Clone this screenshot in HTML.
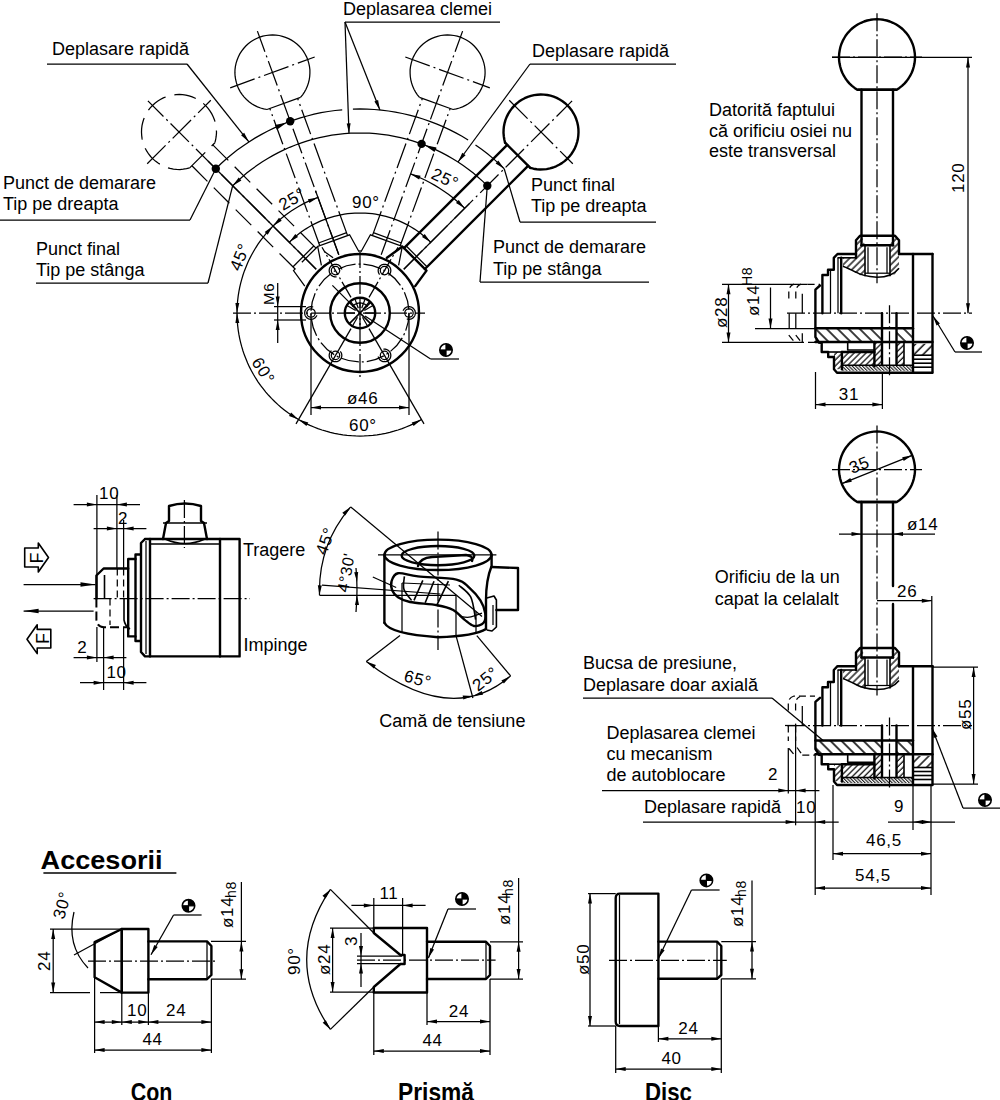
<!DOCTYPE html>
<html><head><meta charset="utf-8"><style>
    html,body{margin:0;padding:0;background:#fff;}
    svg{display:block;}
    .k{stroke:#000;stroke-width:2.4;fill:none;stroke-linecap:round;stroke-linejoin:round;}
    .km{stroke:#000;stroke-width:1.6;fill:none;stroke-linejoin:round;}
    .t{stroke:#000;stroke-width:1.25;fill:none;}
    .dd{stroke:#000;stroke-width:1.25;fill:none;stroke-dasharray:18 3 2 3;}
    .ds{stroke:#000;stroke-width:1.25;fill:none;stroke-dasharray:7 4;}
    .ds2{stroke:#000;stroke-width:1.25;fill:none;stroke-dasharray:22 9;}
    .dd2{stroke:#000;stroke-width:1.25;fill:none;stroke-dasharray:26 4 2 4;}
    .kds{stroke:#000;stroke-width:2;fill:none;stroke-dasharray:9 4;}
    .tx{font-family:"Liberation Sans",sans-serif;fill:#000;}
    .dim{letter-spacing:0.7px;}
    .bt{font-family:"Liberation Sans",sans-serif;fill:#000;font-weight:bold;}
    </style></head>
<body><svg width="1000" height="1100" viewBox="0 0 1000 1100"><defs>
    <pattern id="hpA" patternUnits="userSpaceOnUse" width="7.8" height="7.8" patternTransform="rotate(-45)"><line x1="1" y1="0" x2="1" y2="7.8" stroke="#000" stroke-width="1.5"/></pattern>
    <pattern id="hpB" patternUnits="userSpaceOnUse" width="4.2" height="4.2" patternTransform="rotate(45)"><line x1="1" y1="0" x2="1" y2="4.2" stroke="#000" stroke-width="1.2"/></pattern>
    <pattern id="hpC" patternUnits="userSpaceOnUse" width="2.4" height="2.4" patternTransform="rotate(-45)"><line x1="0.6" y1="0" x2="0.6" y2="2.4" stroke="#000" stroke-width="1.0"/></pattern>
    <pattern id="hpD" patternUnits="userSpaceOnUse" width="6.4" height="6.4" patternTransform="rotate(45)"><line x1="1" y1="0" x2="1" y2="6.4" stroke="#000" stroke-width="1.4"/></pattern>
    <pattern id="hpE" patternUnits="userSpaceOnUse" width="4.8" height="4.8" patternTransform="rotate(45)"><line x1="1" y1="0" x2="1" y2="4.8" stroke="#000" stroke-width="1.3"/></pattern>
    </defs>
<rect width="1000" height="1100" fill="#fff"/>
<circle cx="360.0" cy="313.0" r="59.0" class="k"/>
<circle cx="360.0" cy="313.0" r="29.8" class="k"/>
<circle cx="360.0" cy="313.0" r="15.2" class="k"/>
<circle cx="360.0" cy="313.0" r="49.0" class="dd"/>
<circle cx="384.5" cy="270.6" r="4.2" class="t"/>
<path d="M379.7,274.6 L379.5,274.4 L379.4,274.3 L379.3,274.1 L379.2,273.9 L379.0,273.7 L378.9,273.5 L378.8,273.3 L378.7,273.1 L378.7,272.9 L378.6,272.7 L378.5,272.5 L378.4,272.3 L378.4,272.1 L378.3,271.9 L378.3,271.7 L378.3,271.4 L378.2,271.2 L378.2,271.0 L378.2,270.8 L378.2,270.6 L378.2,270.3 L378.2,270.1 L378.2,269.9 L378.3,269.7 L378.3,269.5 L378.3,269.3 L378.4,269.0 L378.4,268.8 L378.5,268.6 L378.6,268.4 L378.7,268.2 L378.7,268.0 L378.8,267.8 L378.9,267.6 L379.0,267.4 L379.2,267.2 L379.3,267.0 L379.4,266.9 L379.5,266.7 L379.7,266.5 L379.8,266.3 L380.0,266.2 L380.1,266.0 L380.3,265.9 L380.5,265.7 L380.6,265.6 L380.8,265.5 L381.0,265.3 L381.2,265.2 L381.4,265.1 L381.5,265.0 L381.7,264.9 L381.9,264.8 L382.1,264.7 L382.3,264.6 L382.6,264.6 L382.8,264.5 L383.0,264.5 L383.2,264.4 L383.4,264.4 L383.6,264.3 L383.8,264.3 L384.1,264.3 L384.3,264.3 L384.5,264.3 L384.7,264.3 L384.9,264.3 L385.2,264.3 L385.4,264.3 L385.6,264.4 L385.8,264.4 L386.0,264.5 L386.2,264.5 L386.4,264.6 L386.7,264.6 L386.9,264.7 L387.1,264.8 L387.3,264.9 L387.5,265.0 L387.6,265.1 L387.8,265.2 L388.0,265.3 L388.2,265.5 L388.4,265.6 L388.5,265.7 L388.7,265.9 L388.9,266.0 L389.0,266.2 L389.2,266.3 L389.3,266.5 L389.5,266.7 L389.6,266.9 L389.7,267.0 L389.8,267.2 L390.0,267.4 L390.1,267.6 L390.2,267.8 L390.3,268.0 L390.3,268.2 L390.4,268.4 L390.5,268.6 L390.6,268.8 L390.6,269.0 L390.7,269.3 L390.7,269.5 L390.7,269.7 L390.8,269.9 L390.8,270.1 L390.8,270.3 L390.8,270.6 L390.8,270.8 L390.8,271.0 L390.8,271.2 L390.7,271.4 L390.7,271.7 L390.7,271.9 L390.6,272.1 L390.6,272.3 L390.5,272.5 L390.4,272.7 L390.3,272.9 L390.3,273.1 L390.2,273.3 L390.1,273.5 L390.0,273.7 L389.8,273.9 L389.7,274.1 L389.6,274.3 L389.5,274.4 L389.3,274.6 L389.2,274.8 L389.0,274.9 L388.9,275.1 L388.7,275.2 L388.5,275.4" class="t"/>
<circle cx="409.0" cy="313.0" r="4.2" class="t"/>
<path d="M403.1,310.8 L403.2,310.6 L403.2,310.4 L403.3,310.2 L403.4,310.0 L403.5,309.9 L403.7,309.7 L403.8,309.5 L403.9,309.3 L404.0,309.1 L404.2,309.0 L404.3,308.8 L404.5,308.6 L404.6,308.5 L404.8,308.3 L405.0,308.2 L405.1,308.0 L405.3,307.9 L405.5,307.8 L405.7,307.7 L405.9,307.5 L406.0,307.4 L406.2,307.3 L406.4,307.2 L406.6,307.2 L406.8,307.1 L407.1,307.0 L407.3,306.9 L407.5,306.9 L407.7,306.8 L407.9,306.8 L408.1,306.8 L408.3,306.7 L408.6,306.7 L408.8,306.7 L409.0,306.7 L409.2,306.7 L409.4,306.7 L409.7,306.7 L409.9,306.8 L410.1,306.8 L410.3,306.8 L410.5,306.9 L410.7,306.9 L410.9,307.0 L411.2,307.1 L411.4,307.2 L411.6,307.2 L411.8,307.3 L412.0,307.4 L412.1,307.5 L412.3,307.7 L412.5,307.8 L412.7,307.9 L412.9,308.0 L413.0,308.2 L413.2,308.3 L413.4,308.5 L413.5,308.6 L413.7,308.8 L413.8,309.0 L414.0,309.1 L414.1,309.3 L414.2,309.5 L414.3,309.7 L414.5,309.9 L414.6,310.0 L414.7,310.2 L414.8,310.4 L414.8,310.6 L414.9,310.8 L415.0,311.1 L415.1,311.3 L415.1,311.5 L415.2,311.7 L415.2,311.9 L415.2,312.1 L415.3,312.3 L415.3,312.6 L415.3,312.8 L415.3,313.0 L415.3,313.2 L415.3,313.4 L415.3,313.7 L415.2,313.9 L415.2,314.1 L415.2,314.3 L415.1,314.5 L415.1,314.7 L415.0,314.9 L414.9,315.2 L414.8,315.4 L414.8,315.6 L414.7,315.8 L414.6,316.0 L414.5,316.1 L414.3,316.3 L414.2,316.5 L414.1,316.7 L414.0,316.9 L413.8,317.0 L413.7,317.2 L413.5,317.4 L413.4,317.5 L413.2,317.7 L413.0,317.8 L412.9,318.0 L412.7,318.1 L412.5,318.2 L412.3,318.3 L412.1,318.5 L412.0,318.6 L411.8,318.7 L411.6,318.8 L411.4,318.8 L411.2,318.9 L410.9,319.0 L410.7,319.1 L410.5,319.1 L410.3,319.2 L410.1,319.2 L409.9,319.2 L409.7,319.3 L409.4,319.3 L409.2,319.3 L409.0,319.3 L408.8,319.3 L408.6,319.3 L408.3,319.3 L408.1,319.2 L407.9,319.2 L407.7,319.2 L407.5,319.1 L407.3,319.1 L407.1,319.0 L406.8,318.9" class="t"/>
<circle cx="384.5" cy="355.4" r="4.2" class="t"/>
<path d="M383.4,349.2 L383.6,349.2 L383.8,349.2 L384.1,349.2 L384.3,349.1 L384.5,349.1 L384.7,349.1 L384.9,349.2 L385.2,349.2 L385.4,349.2 L385.6,349.2 L385.8,349.3 L386.0,349.3 L386.2,349.4 L386.4,349.4 L386.7,349.5 L386.9,349.6 L387.1,349.7 L387.3,349.8 L387.5,349.9 L387.6,350.0 L387.8,350.1 L388.0,350.2 L388.2,350.3 L388.4,350.5 L388.5,350.6 L388.7,350.8 L388.9,350.9 L389.0,351.1 L389.2,351.2 L389.3,351.4 L389.5,351.6 L389.6,351.7 L389.7,351.9 L389.8,352.1 L390.0,352.3 L390.1,352.5 L390.2,352.7 L390.3,352.9 L390.3,353.1 L390.4,353.3 L390.5,353.5 L390.6,353.7 L390.6,353.9 L390.7,354.1 L390.7,354.3 L390.7,354.6 L390.8,354.8 L390.8,355.0 L390.8,355.2 L390.8,355.4 L390.8,355.7 L390.8,355.9 L390.8,356.1 L390.7,356.3 L390.7,356.5 L390.7,356.7 L390.6,357.0 L390.6,357.2 L390.5,357.4 L390.4,357.6 L390.3,357.8 L390.3,358.0 L390.2,358.2 L390.1,358.4 L390.0,358.6 L389.8,358.8 L389.7,359.0 L389.6,359.1 L389.5,359.3 L389.3,359.5 L389.2,359.7 L389.0,359.8 L388.9,360.0 L388.7,360.1 L388.5,360.3 L388.4,360.4 L388.2,360.5 L388.0,360.7 L387.8,360.8 L387.6,360.9 L387.5,361.0 L387.3,361.1 L387.1,361.2 L386.9,361.3 L386.7,361.4 L386.4,361.4 L386.2,361.5 L386.0,361.5 L385.8,361.6 L385.6,361.6 L385.4,361.7 L385.2,361.7 L384.9,361.7 L384.7,361.7 L384.5,361.7 L384.3,361.7 L384.1,361.7 L383.8,361.7 L383.6,361.7 L383.4,361.6 L383.2,361.6 L383.0,361.5 L382.8,361.5 L382.6,361.4 L382.3,361.4 L382.1,361.3 L381.9,361.2 L381.7,361.1 L381.5,361.0 L381.4,360.9 L381.2,360.8 L381.0,360.7 L380.8,360.5 L380.6,360.4 L380.5,360.3 L380.3,360.1 L380.1,360.0 L380.0,359.8 L379.8,359.7 L379.7,359.5 L379.5,359.3 L379.4,359.1 L379.3,359.0 L379.2,358.8 L379.0,358.6 L378.9,358.4 L378.8,358.2 L378.7,358.0 L378.7,357.8 L378.6,357.6 L378.5,357.4 L378.4,357.2 L378.4,357.0 L378.3,356.7 L378.3,356.5" class="t"/>
<circle cx="335.5" cy="355.4" r="4.2" class="t"/>
<path d="M340.3,351.4 L340.5,351.6 L340.6,351.7 L340.7,351.9 L340.8,352.1 L341.0,352.3 L341.1,352.5 L341.2,352.7 L341.3,352.9 L341.3,353.1 L341.4,353.3 L341.5,353.5 L341.6,353.7 L341.6,353.9 L341.7,354.1 L341.7,354.3 L341.7,354.6 L341.8,354.8 L341.8,355.0 L341.8,355.2 L341.8,355.4 L341.8,355.7 L341.8,355.9 L341.8,356.1 L341.7,356.3 L341.7,356.5 L341.7,356.7 L341.6,357.0 L341.6,357.2 L341.5,357.4 L341.4,357.6 L341.3,357.8 L341.3,358.0 L341.2,358.2 L341.1,358.4 L341.0,358.6 L340.8,358.8 L340.7,359.0 L340.6,359.1 L340.5,359.3 L340.3,359.5 L340.2,359.7 L340.0,359.8 L339.9,360.0 L339.7,360.1 L339.5,360.3 L339.4,360.4 L339.2,360.5 L339.0,360.7 L338.8,360.8 L338.6,360.9 L338.5,361.0 L338.3,361.1 L338.1,361.2 L337.9,361.3 L337.7,361.4 L337.4,361.4 L337.2,361.5 L337.0,361.5 L336.8,361.6 L336.6,361.6 L336.4,361.7 L336.2,361.7 L335.9,361.7 L335.7,361.7 L335.5,361.7 L335.3,361.7 L335.1,361.7 L334.8,361.7 L334.6,361.7 L334.4,361.6 L334.2,361.6 L334.0,361.5 L333.8,361.5 L333.6,361.4 L333.3,361.4 L333.1,361.3 L332.9,361.2 L332.7,361.1 L332.5,361.0 L332.4,360.9 L332.2,360.8 L332.0,360.7 L331.8,360.5 L331.6,360.4 L331.5,360.3 L331.3,360.1 L331.1,360.0 L331.0,359.8 L330.8,359.7 L330.7,359.5 L330.5,359.3 L330.4,359.1 L330.3,359.0 L330.2,358.8 L330.0,358.6 L329.9,358.4 L329.8,358.2 L329.7,358.0 L329.7,357.8 L329.6,357.6 L329.5,357.4 L329.4,357.2 L329.4,357.0 L329.3,356.7 L329.3,356.5 L329.3,356.3 L329.2,356.1 L329.2,355.9 L329.2,355.7 L329.2,355.4 L329.2,355.2 L329.2,355.0 L329.2,354.8 L329.3,354.6 L329.3,354.3 L329.3,354.1 L329.4,353.9 L329.4,353.7 L329.5,353.5 L329.6,353.3 L329.7,353.1 L329.7,352.9 L329.8,352.7 L329.9,352.5 L330.0,352.3 L330.2,352.1 L330.3,351.9 L330.4,351.7 L330.5,351.6 L330.7,351.4 L330.8,351.2 L331.0,351.1 L331.1,350.9 L331.3,350.8 L331.5,350.6" class="t"/>
<circle cx="311.0" cy="313.0" r="4.2" class="t"/>
<path d="M316.9,315.2 L316.8,315.4 L316.8,315.6 L316.7,315.8 L316.6,316.0 L316.5,316.1 L316.3,316.3 L316.2,316.5 L316.1,316.7 L316.0,316.9 L315.8,317.0 L315.7,317.2 L315.5,317.4 L315.4,317.5 L315.2,317.7 L315.0,317.8 L314.9,318.0 L314.7,318.1 L314.5,318.2 L314.3,318.3 L314.1,318.5 L314.0,318.6 L313.8,318.7 L313.6,318.8 L313.4,318.8 L313.2,318.9 L312.9,319.0 L312.7,319.1 L312.5,319.1 L312.3,319.2 L312.1,319.2 L311.9,319.2 L311.7,319.3 L311.4,319.3 L311.2,319.3 L311.0,319.3 L310.8,319.3 L310.6,319.3 L310.3,319.3 L310.1,319.2 L309.9,319.2 L309.7,319.2 L309.5,319.1 L309.3,319.1 L309.1,319.0 L308.8,318.9 L308.6,318.8 L308.4,318.8 L308.2,318.7 L308.0,318.6 L307.9,318.5 L307.7,318.3 L307.5,318.2 L307.3,318.1 L307.1,318.0 L307.0,317.8 L306.8,317.7 L306.6,317.5 L306.5,317.4 L306.3,317.2 L306.2,317.0 L306.0,316.9 L305.9,316.7 L305.8,316.5 L305.7,316.3 L305.5,316.1 L305.4,316.0 L305.3,315.8 L305.2,315.6 L305.2,315.4 L305.1,315.2 L305.0,314.9 L304.9,314.7 L304.9,314.5 L304.8,314.3 L304.8,314.1 L304.8,313.9 L304.7,313.7 L304.7,313.4 L304.7,313.2 L304.7,313.0 L304.7,312.8 L304.7,312.6 L304.7,312.3 L304.8,312.1 L304.8,311.9 L304.8,311.7 L304.9,311.5 L304.9,311.3 L305.0,311.1 L305.1,310.8 L305.2,310.6 L305.2,310.4 L305.3,310.2 L305.4,310.0 L305.5,309.9 L305.7,309.7 L305.8,309.5 L305.9,309.3 L306.0,309.1 L306.2,309.0 L306.3,308.8 L306.5,308.6 L306.6,308.5 L306.8,308.3 L307.0,308.2 L307.1,308.0 L307.3,307.9 L307.5,307.8 L307.7,307.7 L307.9,307.5 L308.0,307.4 L308.2,307.3 L308.4,307.2 L308.6,307.2 L308.8,307.1 L309.1,307.0 L309.3,306.9 L309.5,306.9 L309.7,306.8 L309.9,306.8 L310.1,306.8 L310.3,306.7 L310.6,306.7 L310.8,306.7 L311.0,306.7 L311.2,306.7 L311.4,306.7 L311.7,306.7 L311.9,306.8 L312.1,306.8 L312.3,306.8 L312.5,306.9 L312.7,306.9 L312.9,307.0 L313.2,307.1" class="t"/>
<circle cx="335.5" cy="270.6" r="4.2" class="t"/>
<path d="M336.6,276.8 L336.4,276.8 L336.2,276.8 L335.9,276.8 L335.7,276.9 L335.5,276.9 L335.3,276.9 L335.1,276.8 L334.8,276.8 L334.6,276.8 L334.4,276.8 L334.2,276.7 L334.0,276.7 L333.8,276.6 L333.6,276.6 L333.3,276.5 L333.1,276.4 L332.9,276.3 L332.7,276.2 L332.5,276.1 L332.4,276.0 L332.2,275.9 L332.0,275.8 L331.8,275.7 L331.6,275.5 L331.5,275.4 L331.3,275.2 L331.1,275.1 L331.0,274.9 L330.8,274.8 L330.7,274.6 L330.5,274.4 L330.4,274.3 L330.3,274.1 L330.2,273.9 L330.0,273.7 L329.9,273.5 L329.8,273.3 L329.7,273.1 L329.7,272.9 L329.6,272.7 L329.5,272.5 L329.4,272.3 L329.4,272.1 L329.3,271.9 L329.3,271.7 L329.3,271.4 L329.2,271.2 L329.2,271.0 L329.2,270.8 L329.2,270.6 L329.2,270.3 L329.2,270.1 L329.2,269.9 L329.3,269.7 L329.3,269.5 L329.3,269.3 L329.4,269.0 L329.4,268.8 L329.5,268.6 L329.6,268.4 L329.7,268.2 L329.7,268.0 L329.8,267.8 L329.9,267.6 L330.0,267.4 L330.2,267.2 L330.3,267.0 L330.4,266.9 L330.5,266.7 L330.7,266.5 L330.8,266.3 L331.0,266.2 L331.1,266.0 L331.3,265.9 L331.5,265.7 L331.6,265.6 L331.8,265.5 L332.0,265.3 L332.2,265.2 L332.4,265.1 L332.5,265.0 L332.7,264.9 L332.9,264.8 L333.1,264.7 L333.3,264.6 L333.6,264.6 L333.8,264.5 L334.0,264.5 L334.2,264.4 L334.4,264.4 L334.6,264.3 L334.8,264.3 L335.1,264.3 L335.3,264.3 L335.5,264.3 L335.7,264.3 L335.9,264.3 L336.2,264.3 L336.4,264.3 L336.6,264.4 L336.8,264.4 L337.0,264.5 L337.2,264.5 L337.4,264.6 L337.7,264.6 L337.9,264.7 L338.1,264.8 L338.3,264.9 L338.5,265.0 L338.6,265.1 L338.8,265.2 L339.0,265.3 L339.2,265.5 L339.4,265.6 L339.5,265.7 L339.7,265.9 L339.9,266.0 L340.0,266.2 L340.2,266.3 L340.3,266.5 L340.5,266.7 L340.6,266.9 L340.7,267.0 L340.8,267.2 L341.0,267.4 L341.1,267.6 L341.2,267.8 L341.3,268.0 L341.3,268.2 L341.4,268.4 L341.5,268.6 L341.6,268.8 L341.6,269.0 L341.7,269.3 L341.7,269.5" class="t"/>
<line x1="369.0" y1="297.4" x2="398.0" y2="247.2" class="dd"/>
<line x1="351.0" y1="297.4" x2="322.0" y2="247.2" class="dd"/>
<line x1="369.0" y1="328.6" x2="424.0" y2="423.9" class="t"/>
<line x1="351.0" y1="328.6" x2="296.0" y2="423.9" class="t"/>
<line x1="349.4" y1="302.4" x2="370.6" y2="323.6" class="km"/>
<line x1="370.6" y1="302.4" x2="349.4" y2="323.6" class="km"/>
<line x1="355.7" y1="310.5" x2="347.0" y2="305.5" class="t"/>
<line x1="356.8" y1="309.2" x2="350.4" y2="301.5" class="t"/>
<line x1="358.3" y1="308.3" x2="354.9" y2="298.9" class="t"/>
<line x1="360.0" y1="308.0" x2="360.0" y2="298.0" class="t"/>
<line x1="361.7" y1="308.3" x2="365.1" y2="298.9" class="t"/>
<line x1="363.2" y1="309.2" x2="369.6" y2="301.5" class="t"/>
<line x1="364.3" y1="310.5" x2="373.0" y2="305.5" class="t"/>
<line x1="365.0" y1="313.0" x2="375.0" y2="313.0" class="t"/>
<line x1="355.0" y1="313.0" x2="345.0" y2="313.0" class="t"/>
<line x1="360.0" y1="318.0" x2="360.0" y2="328.0" class="t"/>
<line x1="362.5" y1="317.3" x2="367.5" y2="326.0" class="t"/>
<line x1="357.5" y1="317.3" x2="352.5" y2="326.0" class="t"/>
<path d="M352.3,306.6 L352.6,306.3 L352.8,306.1 L353.1,305.8 L353.3,305.6 L353.6,305.3 L353.8,305.1 L354.1,304.9 L354.4,304.7 L354.7,304.5 L355.0,304.3 L355.3,304.2 L355.6,304.0 L355.9,303.9 L356.3,303.7 L356.6,303.6 L356.9,303.5 L357.2,303.4 L357.6,303.3 L357.9,303.2 L358.3,303.2 L358.6,303.1 L359.0,303.1 L359.3,303.0 L359.7,303.0 L360.0,303.0 L360.3,303.0 L360.7,303.0 L361.0,303.1 L361.4,303.1 L361.7,303.2 L362.1,303.2 L362.4,303.3 L362.8,303.4 L363.1,303.5 L363.4,303.6 L363.7,303.7 L364.1,303.9 L364.4,304.0 L364.7,304.2 L365.0,304.3 L365.3,304.5 L365.6,304.7 L365.9,304.9 L366.2,305.1 L366.4,305.3 L366.7,305.6 L366.9,305.8 L367.2,306.1 L367.4,306.3 L367.7,306.6" class="t"/>
<line x1="349.4" y1="302.4" x2="332.4" y2="285.4" class="t"/>
<line x1="233.0" y1="313.0" x2="425.0" y2="313.0" class="dd"/>
<line x1="360.0" y1="250.0" x2="360.0" y2="377.0" class="dd"/>
<path d="M215.8,168.8 L220.9,163.8 L226.2,159.0 L231.6,154.5 L237.2,150.1 L243.0,145.9 L248.9,141.9 L254.9,138.1 L261.1,134.6 L267.4,131.2 L273.8,128.1 L280.3,125.2 L286.9,122.5 L293.6,120.1 L300.4,117.9 L307.2,116.0 L314.1,114.2 L321.1,112.7 L328.1,111.5 L335.1,110.5 L342.2,109.8" class="t"/>
<path d="M352.9,109.1 L360.0,109.0 L367.1,109.1 L374.2,109.5 L381.3,110.1 L388.4,111.0 L395.4,112.1 L402.4,113.5 L409.4,115.1 L416.2,116.9 L423.0,119.0 L429.8,121.3 L436.4,123.9 L443.0,126.6 L449.4,129.6 L455.8,132.9 L462.0,136.3 L468.1,140.0" class="t"/>
<path d="M475.5,144.9 L481.6,149.2 L487.5,153.8 L493.3,158.6 L498.9,163.6 L504.2,168.8" class="t"/>
<path d="M232.7,185.7 L237.2,181.4 L241.9,177.2 L246.7,173.1 L251.7,169.2 L256.8,165.6 L262.0,162.0 L267.3,158.7 L272.7,155.6 L278.3,152.6 L283.9,149.9 L289.7,147.3 L295.5,145.0 L301.4,142.8 L307.4,140.9 L313.4,139.1 L319.5,137.6 L325.7,136.3 L331.8,135.2 L338.1,134.3 L344.3,133.7 L350.6,133.2 L356.9,133.0 L363.1,133.0 L369.4,133.2 L375.7,133.7 L381.9,134.3 L388.2,135.2 L394.3,136.3 L400.5,137.6 L406.6,139.1 L412.6,140.9 L418.6,142.8 L424.5,145.0 L430.3,147.3 L436.1,149.9 L441.7,152.6 L447.3,155.6 L452.7,158.7 L458.0,162.0 L463.2,165.6 L468.3,169.2 L473.3,173.1 L478.1,177.2 L482.8,181.4 L487.3,185.7" class="t"/>
<path d="M410.6,173.9 L415.6,175.9 L420.6,178.0 L425.5,180.3 L430.2,182.7 L434.9,185.4 L439.5,188.2 L444.0,191.2 L448.4,194.3 L452.6,197.6 L456.8,201.0 L460.8,204.6 L464.7,208.3" class="t"/>
<path d="M410.6,173.9 L420.6,175.8 L419.1,179.5 Z" fill="#000"/>
<path d="M464.7,208.3 L456.0,203.0 L458.7,200.1 Z" fill="#000"/>
<path d="M289.3,242.3 L291.8,239.9 L294.4,237.5 L297.1,235.3 L299.8,233.1 L302.6,231.1 L305.5,229.1 L308.5,227.3 L311.5,225.5 L314.6,223.9 L317.7,222.4 L320.9,220.9 L324.2,219.6 L327.4,218.4 L330.8,217.4 L334.1,216.4 L337.5,215.6 L340.9,214.8 L344.4,214.2 L347.8,213.7 L351.3,213.4 L354.8,213.1 L358.3,213.0 L361.7,213.0 L365.2,213.1 L368.7,213.4 L372.2,213.7 L375.6,214.2 L379.1,214.8 L382.5,215.6 L385.9,216.4 L389.2,217.4 L392.6,218.4 L395.8,219.6 L399.1,220.9 L402.3,222.4 L405.4,223.9 L408.5,225.5 L411.5,227.3 L414.5,229.1 L417.4,231.1 L420.2,233.1 L422.9,235.3 L425.6,237.5 L428.2,239.9 L430.7,242.3" class="t"/>
<path d="M289.3,242.3 L295.3,234.1 L298.0,237.0 Z" fill="#000"/>
<path d="M430.7,242.3 L422.0,237.0 L424.7,234.1 Z" fill="#000"/>
<path d="M317.9,197.4 L313.9,199.0 L310.0,200.6 L306.1,202.4 L302.3,204.4 L298.5,206.5 L294.8,208.7 L291.2,211.0 L287.7,213.5 L284.3,216.1 L280.9,218.8 L277.7,221.6 L274.6,224.5 L271.5,227.6 L268.6,230.7 L265.8,233.9 L263.1,237.3 L260.5,240.7 L258.0,244.2 L255.7,247.8 L253.5,251.5 L251.4,255.3 L249.4,259.1 L247.6,263.0 L246.0,266.9 L244.4,270.9 L243.0,275.0 L241.8,279.1 L240.7,283.2 L239.7,287.4 L238.9,291.6 L238.2,295.9 L237.7,300.1 L237.3,304.4 L237.1,308.7 L237.0,313.0 L237.1,317.3 L237.3,321.6 L237.7,325.9 L238.2,330.1 L238.9,334.4 L239.7,338.6 L240.7,342.8 L241.8,346.9 L243.0,351.0 L244.4,355.1 L246.0,359.1 L247.6,363.0 L249.4,366.9 L251.4,370.7 L253.5,374.5 L255.7,378.2 L258.0,381.8 L260.5,385.3 L263.1,388.7 L265.8,392.1 L268.6,395.3 L271.5,398.4 L274.6,401.5 L277.7,404.4 L280.9,407.2 L284.3,409.9 L287.7,412.5 L291.2,415.0 L294.8,417.3 L298.5,419.5 L302.3,421.6 L306.1,423.6 L310.0,425.4 L313.9,427.0 L317.9,428.6 L322.0,430.0 L326.1,431.2 L330.2,432.3 L334.4,433.3 L338.6,434.1 L342.9,434.8 L347.1,435.3 L351.4,435.7 L355.7,435.9 L360.0,436.0 L364.3,435.9 L368.6,435.7 L372.9,435.3 L377.1,434.8 L381.4,434.1 L385.6,433.3 L389.8,432.3 L393.9,431.2 L398.0,430.0 L402.1,428.6 L406.1,427.0 L410.0,425.4 L413.9,423.6 L417.7,421.6 L421.5,419.5" class="t"/>
<path d="M317.9,197.4 L309.4,203.0 L307.9,199.3 Z" fill="#000"/>
<path d="M273.0,226.0 L279.0,217.7 L281.7,220.7 Z" fill="#000"/>
<path d="M273.0,226.0 L267.7,234.7 L264.7,232.0 Z" fill="#000"/>
<path d="M237.0,313.0 L235.4,302.9 L239.3,303.1 Z" fill="#000"/>
<path d="M237.0,313.0 L239.3,322.9 L235.4,323.1 Z" fill="#000"/>
<path d="M298.5,419.5 L289.0,415.9 L291.1,412.5 Z" fill="#000"/>
<path d="M298.5,419.5 L308.3,422.4 L306.4,426.0 Z" fill="#000"/>
<path d="M421.5,419.5 L413.6,426.0 L411.7,422.4 Z" fill="#000"/>
<line x1="316.2" y1="269.2" x2="208.0" y2="161.0" class="t"/>
<line x1="338.8" y1="254.7" x2="315.5" y2="190.8" class="t"/>
<line x1="403.8" y1="269.2" x2="469.6" y2="203.4" class="t"/>
<path d="M286.9,122.5 L276.9,129.7 L274.9,125.0 Z" fill="#000"/>
<circle cx="290.2" cy="121.3" r="4.2" fill="#000"/>
<path d="M424.5,145.0 L436.5,147.4 L434.5,152.1 Z" fill="#000"/>
<circle cx="421.6" cy="143.9" r="4.2" fill="#000"/>
<circle cx="215.8" cy="168.8" r="4.2" fill="#000"/>
<circle cx="487.3" cy="185.7" r="4.2" fill="#000"/>
<path d="M232.7,185.7 L238.7,177.4 L241.4,180.4 Z" fill="#000"/>
<path d="M504.2,168.8 L495.6,163.4 L498.3,160.5 Z" fill="#000"/>
<path d="M189.7,167.9 L186.5,168.7 L183.2,169.2 L179.9,169.5 L176.6,169.4 L173.4,169.1 L170.1,168.4 L166.9,167.5 L163.9,166.3 L160.9,164.8 L158.1,163.1 L155.4,161.1 L152.9,158.9 L150.6,156.5 L148.6,154.0 L146.8,151.2 L145.2,148.3 L143.9,145.2 L142.9,142.1 L142.1,138.9 L141.7,135.6 L141.5,132.3 L141.6,129.0 L142.0,125.7 L142.7,122.5 L143.7,119.3 L144.9,116.3 L146.5,113.3 L148.2,110.5 L150.2,107.9 L152.5,105.5 L154.9,103.2 L157.5,101.2 L160.3,99.5 L163.3,97.9 L166.3,96.7 L169.5,95.7 L172.7,95.0 L176.0,94.6 L179.3,94.5 L182.6,94.7 L185.9,95.1 L189.1,95.9 L192.2,96.9 L195.3,98.2 L198.2,99.8 L201.0,101.6 L203.5,103.6 L205.9,105.9 L208.1,108.4 L210.1,111.1 L211.8,113.9 L213.3,116.9 L214.5,119.9 L215.4,123.1 L216.1,126.4 L216.4,129.6 L216.5,132.9 L216.2,136.2 L215.7,139.5 L214.9,142.7" class="ds2"/>
<line x1="189.7" y1="167.9" x2="214.9" y2="142.7" class="ds2"/>
<line x1="295.1" y1="269.0" x2="191.9" y2="165.8" class="ds2"/>
<line x1="316.0" y1="248.1" x2="212.8" y2="144.9" class="ds2"/>
<line x1="147.2" y1="163.8" x2="210.8" y2="100.2" class="dd2"/>
<line x1="316.2" y1="269.2" x2="147.9" y2="100.9" class="dd2"/>
<path d="M304.8,286.1 L293.5,270.6 L317.6,246.5 L333.1,257.8" class="ds2"/>
<line x1="292.8" y1="267.0" x2="314.0" y2="245.8" class="t"/>
<path d="M267.0,109.5 L263.7,108.9 L260.6,108.0 L257.5,106.8 L254.5,105.4 L251.7,103.7 L249.0,101.7 L246.5,99.5 L244.2,97.1 L242.2,94.6 L240.3,91.8 L238.7,88.9 L237.4,85.9 L236.4,82.7 L235.6,79.5 L235.1,76.2 L234.9,72.9 L235.0,69.6 L235.4,66.4 L236.1,63.1 L237.1,60.0 L238.3,56.9 L239.8,53.9 L241.6,51.1 L243.6,48.5 L245.8,46.0 L248.2,43.8 L250.8,41.8 L253.6,40.0 L256.6,38.5 L259.6,37.2 L262.8,36.2 L266.0,35.5 L269.3,35.1 L272.6,34.9 L275.9,35.1 L279.2,35.5 L282.4,36.3 L285.5,37.3 L288.6,38.6 L291.5,40.1 L294.3,41.9 L296.9,44.0 L299.3,46.3 L301.5,48.7 L303.5,51.4 L305.2,54.2 L306.7,57.1 L307.9,60.2 L308.8,63.4 L309.5,66.6 L309.9,69.9 L309.9,73.2 L309.7,76.5 L309.2,79.8 L308.4,83.0 L307.4,86.1 L306.0,89.2 L304.4,92.1 L302.6,94.8 L300.5,97.4" class="t"/>
<line x1="267.0" y1="109.5" x2="300.5" y2="97.4" class="t"/>
<line x1="319.8" y1="245.7" x2="269.8" y2="108.5" class="dd2"/>
<line x1="347.6" y1="235.6" x2="297.6" y2="98.4" class="dd2"/>
<line x1="230.2" y1="87.8" x2="314.7" y2="57.0" class="dd2"/>
<line x1="338.8" y1="254.7" x2="257.4" y2="31.1" class="dd2"/>
<path d="M321.4,265.3 L317.7,246.5 L349.6,234.8 L359.0,251.7" class="t"/>
<line x1="318.5" y1="243.0" x2="346.7" y2="232.7" class="t"/>
<path d="M419.5,97.4 L417.4,94.8 L415.6,92.1 L414.0,89.2 L412.6,86.1 L411.6,83.0 L410.8,79.8 L410.3,76.5 L410.1,73.2 L410.1,69.9 L410.5,66.6 L411.2,63.4 L412.1,60.2 L413.3,57.1 L414.8,54.2 L416.5,51.4 L418.5,48.7 L420.7,46.3 L423.1,44.0 L425.7,41.9 L428.5,40.1 L431.4,38.6 L434.5,37.3 L437.6,36.3 L440.8,35.5 L444.1,35.1 L447.4,34.9 L450.7,35.1 L454.0,35.5 L457.2,36.2 L460.4,37.2 L463.4,38.5 L466.4,40.0 L469.2,41.8 L471.8,43.8 L474.2,46.0 L476.4,48.5 L478.4,51.1 L480.2,53.9 L481.7,56.9 L482.9,60.0 L483.9,63.1 L484.6,66.4 L485.0,69.6 L485.1,72.9 L484.9,76.2 L484.4,79.5 L483.6,82.7 L482.6,85.9 L481.3,88.9 L479.7,91.8 L477.8,94.6 L475.8,97.1 L473.5,99.5 L471.0,101.7 L468.3,103.7 L465.5,105.4 L462.5,106.8 L459.4,108.0 L456.3,108.9 L453.0,109.5" class="t"/>
<line x1="419.5" y1="97.4" x2="453.0" y2="109.5" class="t"/>
<line x1="372.4" y1="235.6" x2="422.4" y2="98.4" class="dd2"/>
<line x1="400.2" y1="245.7" x2="450.2" y2="108.5" class="dd2"/>
<line x1="405.3" y1="57.0" x2="489.8" y2="87.8" class="dd2"/>
<line x1="381.2" y1="254.7" x2="462.6" y2="31.1" class="dd2"/>
<path d="M361.0,251.7 L370.4,234.8 L402.3,246.5 L398.6,265.3" class="t"/>
<line x1="373.3" y1="232.7" x2="401.5" y2="243.0" class="t"/>
<path d="M505.1,142.7 L504.3,139.5 L503.8,136.2 L503.5,132.9 L503.6,129.6 L503.9,126.4 L504.6,123.1 L505.5,119.9 L506.7,116.9 L508.2,113.9 L509.9,111.1 L511.9,108.4 L514.1,105.9 L516.5,103.6 L519.0,101.6 L521.8,99.8 L524.7,98.2 L527.8,96.9 L530.9,95.9 L534.1,95.1 L537.4,94.7 L540.7,94.5 L544.0,94.6 L547.3,95.0 L550.5,95.7 L553.7,96.7 L556.7,97.9 L559.7,99.5 L562.5,101.2 L565.1,103.2 L567.5,105.5 L569.8,107.9 L571.8,110.5 L573.5,113.3 L575.1,116.3 L576.3,119.3 L577.3,122.5 L578.0,125.7 L578.4,129.0 L578.5,132.3 L578.3,135.6 L577.9,138.9 L577.1,142.1 L576.1,145.2 L574.8,148.3 L573.2,151.2 L571.4,154.0 L569.4,156.5 L567.1,158.9 L564.6,161.1 L561.9,163.1 L559.1,164.8 L556.1,166.3 L553.1,167.5 L549.9,168.4 L546.6,169.1 L543.4,169.4 L540.1,169.5 L536.8,169.2 L533.5,168.7 L530.3,167.9" class="k"/>
<line x1="505.1" y1="142.7" x2="530.3" y2="167.9" class="k"/>
<line x1="404.0" y1="248.1" x2="507.2" y2="144.9" class="k"/>
<line x1="424.9" y1="269.0" x2="528.1" y2="165.8" class="k"/>
<line x1="509.2" y1="100.2" x2="572.8" y2="163.8" class="dd2"/>
<line x1="403.8" y1="269.2" x2="572.1" y2="100.9" class="dd2"/>
<path d="M386.9,257.8 L402.4,246.5 L426.5,270.6 L415.2,286.1" class="k"/>
<line x1="406.0" y1="245.8" x2="427.2" y2="267.0" class="t"/>
<line x1="345.0" y1="22.0" x2="500.0" y2="22.0" class="t"/>
<line x1="345.0" y1="22.0" x2="349.0" y2="133.3" class="t"/>
<path d="M349.0,133.3 L346.7,123.4 L350.6,123.3 Z" fill="#000"/>
<line x1="345.0" y1="22.0" x2="379.9" y2="110.0" class="t"/>
<path d="M379.9,110.0 L374.4,101.4 L378.1,99.9 Z" fill="#000"/>
<text x="343.0" y="15.0" font-size="18" text-anchor="start" class="tx">Deplasarea clemei</text>
<text x="52.0" y="55.0" font-size="18" text-anchor="start" class="tx">Deplasare rapidă</text>
<line x1="47.0" y1="64.0" x2="187.0" y2="64.0" class="t"/>
<line x1="187.0" y1="64.0" x2="248.9" y2="141.9" class="t"/>
<path d="M248.9,141.9 L241.1,135.3 L244.2,132.8 Z" fill="#000"/>
<text x="3.0" y="189.0" font-size="18" text-anchor="start" class="tx">Punct de demarare</text>
<text x="3.0" y="210.0" font-size="18" text-anchor="start" class="tx">Tip pe dreapta</text>
<line x1="0.0" y1="220.0" x2="190.0" y2="220.0" class="t"/>
<line x1="190.0" y1="220.0" x2="215.8" y2="168.8" class="t"/>
<text x="36.0" y="255.0" font-size="18" text-anchor="start" class="tx">Punct final</text>
<text x="36.0" y="276.0" font-size="18" text-anchor="start" class="tx">Tip pe stânga</text>
<line x1="36.0" y1="283.0" x2="208.0" y2="283.0" class="t"/>
<line x1="208.0" y1="283.0" x2="232.7" y2="185.7" class="t"/>
<text x="532.0" y="57.0" font-size="18" text-anchor="start" class="tx">Deplasare rapidă</text>
<line x1="530.0" y1="64.0" x2="676.0" y2="64.0" class="t"/>
<line x1="530.0" y1="64.0" x2="458.0" y2="162.0" class="t"/>
<path d="M458.0,162.0 L462.3,152.8 L465.6,155.2 Z" fill="#000"/>
<text x="531.0" y="191.0" font-size="18" text-anchor="start" class="tx">Punct final</text>
<text x="531.0" y="212.0" font-size="18" text-anchor="start" class="tx">Tip pe dreapta</text>
<line x1="520.0" y1="222.0" x2="656.0" y2="222.0" class="t"/>
<line x1="520.0" y1="222.0" x2="504.2" y2="168.8" class="t"/>
<text x="493.0" y="253.0" font-size="18" text-anchor="start" class="tx">Punct de demarare</text>
<text x="493.0" y="274.5" font-size="18" text-anchor="start" class="tx">Tip pe stânga</text>
<line x1="480.0" y1="282.0" x2="649.0" y2="282.0" class="t"/>
<line x1="480.0" y1="282.0" x2="487.3" y2="185.7" class="t"/>
<text x="352.0" y="208.0" font-size="17" text-anchor="start" class="tx dim">90°</text>
<text x="0.0" y="0.0" font-size="17" text-anchor="start" class="tx dim" transform="translate(283,211) rotate(-30)">25°</text>
<text x="0.0" y="0.0" font-size="17" text-anchor="start" class="tx dim" transform="translate(430,178) rotate(25)">25°</text>
<text x="0.0" y="0.0" font-size="17" text-anchor="start" class="tx dim" transform="translate(240,272) rotate(-68)">45°</text>
<text x="0.0" y="0.0" font-size="17" text-anchor="start" class="tx dim" transform="translate(251,362) rotate(58)">60°</text>
<text x="349.0" y="431.0" font-size="17" text-anchor="start" class="tx dim">60°</text>
<text x="347.0" y="404.0" font-size="17" text-anchor="start" class="tx dim">ø46</text>
<line x1="311.0" y1="407.5" x2="409.0" y2="407.5" class="t"/>
<path d="M311.0,407.5 L321.0,405.5 L321.0,409.5 Z" fill="#000"/>
<path d="M409.0,407.5 L399.0,409.5 L399.0,405.5 Z" fill="#000"/>
<line x1="311.0" y1="313.0" x2="311.0" y2="415.0" class="t"/>
<line x1="409.0" y1="313.0" x2="409.0" y2="415.0" class="t"/>
<text x="0.0" y="0.0" font-size="15" text-anchor="start" class="tx dim" transform="translate(274,305) rotate(-90)">M6</text>
<line x1="274.0" y1="306.6" x2="306.0" y2="306.6" class="t"/>
<line x1="274.0" y1="320.0" x2="306.0" y2="320.0" class="t"/>
<line x1="277.7" y1="283.0" x2="277.7" y2="343.0" class="t"/>
<path d="M277.7,306.6 L275.7,296.6 L279.7,296.6 Z" fill="#000"/>
<path d="M277.7,320.0 L279.7,330.0 L275.7,330.0 Z" fill="#000"/>
<line x1="365.0" y1="316.0" x2="430.6" y2="359.0" class="t"/>
<line x1="430.6" y1="359.0" x2="459.0" y2="359.0" class="t"/>
<circle cx="446.0" cy="350.0" r="6.2" fill="#fff" stroke="#000" stroke-width="1.6"/>
<path d="M446.0,350.0 L452.2,350.0 A6.2,6.2 0 0 0 446.0,343.8 Z" fill="#000"/>
<path d="M446.0,350.0 L439.8,350.0 A6.2,6.2 0 0 0 446.0,356.2 Z" fill="#000"/>
<line x1="439.8" y1="350.0" x2="452.2" y2="350.0" class="t"/>
<line x1="446.0" y1="343.8" x2="446.0" y2="356.2" class="t"/>
<path d="M895.7,89.8 L857.3,89.8 L854.6,87.9 L852.0,85.9 L849.6,83.6 L847.4,81.1 L845.5,78.5 L843.8,75.7 L842.3,72.7 L841.1,69.7 L840.2,66.5 L839.5,63.3 L839.1,60.1 L839.0,56.8 L839.2,53.5 L839.7,50.2 L840.4,47.0 L841.4,43.9 L842.7,40.9 L844.3,38.0 L846.0,35.2 L848.1,32.6 L850.3,30.2 L852.7,28.0 L855.4,26.0 L858.1,24.3 L861.1,22.8 L864.1,21.5 L867.2,20.5 L870.5,19.8 L873.7,19.4 L877.0,19.2 L880.3,19.4 L883.5,19.8 L886.8,20.5 L889.9,21.5 L892.9,22.8 L895.9,24.3 L898.6,26.0 L901.3,28.0 L903.7,30.2 L905.9,32.6 L908.0,35.2 L909.7,38.0 L911.3,40.9 L912.6,43.9 L913.6,47.0 L914.3,50.2 L914.8,53.5 L915.0,56.8 L914.9,60.1 L914.5,63.3 L913.8,66.5 L912.9,69.7 L911.7,72.7 L910.2,75.7 L908.5,78.5 L906.6,81.1 L904.4,83.6 L902.0,85.9 L899.4,87.9 L896.7,89.8 L858.3,89.8" class="k"/>
<line x1="858.3" y1="89.8" x2="895.7" y2="89.8" class="k"/>
<line x1="877.0" y1="13.2" x2="877.0" y2="283.2" class="dd"/>
<line x1="832.0" y1="57.2" x2="922.0" y2="57.2" class="dd"/>
<line x1="861.5" y1="89.8" x2="861.5" y2="245.2" class="k"/>
<line x1="893.0" y1="89.8" x2="893.0" y2="245.2" class="k"/>
<path d="M843.0,257.8 L856.0,257.8 L856.0,240.2 L860.0,235.8 L861.5,235.8 L865.0,245.2 L865.0,275.2 L860.0,275.2 L850.0,269.2 L843.0,266.2 Z" fill="url(#hpE)"/>
<path d="M893.0,235.8 L895.0,235.8 L899.0,240.2 L899.0,266.2 L895.0,274.2 L890.0,275.2 L890.0,245.2 Z" fill="url(#hpE)"/>
<path d="M843,266.2 Q848,268.2 856,272.2 Q862,276.2 877,277.2 Q892,277.2 899,268.2" class="km"/>
<path d="M856.0,257.8 L856.0,240.2 L860.0,235.8 L895.0,235.8 L899.0,240.2 L899.0,254.0" class="k"/>
<line x1="865.0" y1="245.2" x2="865.0" y2="276.2" class="km"/>
<line x1="890.0" y1="245.2" x2="890.0" y2="276.2" class="km"/>
<line x1="861.5" y1="245.2" x2="893.0" y2="245.2" class="k"/>
<line x1="868.0" y1="247.2" x2="868.0" y2="273.2" class="t"/>
<line x1="887.0" y1="247.2" x2="887.0" y2="273.2" class="t"/>
<line x1="865.0" y1="273.2" x2="890.0" y2="273.2" class="t"/>
<path d="M822.4,313.2 L822.4,275.0 L828.0,275.0 L828.0,269.8 L833.8,269.8 L833.8,257.8 L837.5,254.0 L856.0,254.0" class="k"/>
<line x1="837.5" y1="257.8" x2="856.0" y2="257.8" class="km"/>
<path d="M820.0,285.5 L815.4,289.6 L815.4,337.0 L819.0,342.4" class="k"/>
<line x1="899.0" y1="254.0" x2="932.5" y2="254.0" class="k"/>
<line x1="932.5" y1="254.0" x2="932.5" y2="371.8" class="k"/>
<line x1="913.0" y1="254.0" x2="913.0" y2="342.2" class="k"/>
<line x1="841.2" y1="257.8" x2="841.2" y2="313.2" class="k"/>
<line x1="830.5" y1="269.8" x2="830.5" y2="313.2" class="t"/>
<line x1="838.0" y1="257.8" x2="838.0" y2="313.2" class="t"/>
<line x1="787.0" y1="313.2" x2="972.0" y2="313.2" class="dd"/>
<line x1="815.4" y1="328.2" x2="913.0" y2="328.2" class="k"/>
<rect x="815.4" y="328.2" width="66.6" height="13.8" fill="url(#hpA)"/>
<rect x="896.5" y="328.2" width="16.5" height="13.8" fill="url(#hpA)"/>
<line x1="815.4" y1="342.0" x2="932.5" y2="342.0" class="k"/>
<line x1="882.0" y1="313.2" x2="882.0" y2="365.0" class="k"/>
<line x1="896.5" y1="313.2" x2="896.5" y2="365.0" class="k"/>
<line x1="889.5" y1="305.2" x2="889.5" y2="375.2" class="dd"/>
<rect x="874.4" y="342.0" width="7.6" height="23.0" fill="url(#hpB)"/>
<rect x="896.5" y="342.0" width="7.5" height="23.0" fill="url(#hpB)"/>
<path d="M819.0,342.4 L821.7,343.2 L821.7,352.0 L828.2,352.0 L828.2,357.0 L834.0,357.0 L834.0,369.2 L837.0,372.8 L932.5,372.8" class="k"/>
<line x1="821.7" y1="352.0" x2="847.7" y2="352.0" class="km"/>
<rect x="834.0" y="352.0" width="7.9" height="17.2" fill="url(#hpB)"/>
<rect x="841.9" y="352.0" width="32.5" height="13.0" fill="url(#hpB)"/>
<line x1="841.9" y1="352.0" x2="874.4" y2="352.0" class="k"/>
<line x1="841.9" y1="352.0" x2="841.9" y2="369.2" class="k"/>
<line x1="874.4" y1="342.0" x2="874.4" y2="366.2" class="k"/>
<path d="M847.7,342.0 L847.7,350.0 L874.4,350.0" class="km"/>
<line x1="841.9" y1="365.2" x2="913.0" y2="365.2" class="km"/>
<rect x="842.0" y="365.8" width="71.0" height="5.0" fill="url(#hpC)"/>
<line x1="904.0" y1="342.0" x2="904.0" y2="365.2" class="km"/>
<line x1="913.0" y1="342.0" x2="913.0" y2="372.8" class="k"/>
<rect x="913.5" y="343.8" width="18.5" height="11.5" fill="url(#hpD)"/>
<line x1="913.0" y1="355.2" x2="932.5" y2="355.2" class="km"/>
<line x1="913.0" y1="359.2" x2="932.0" y2="359.2" class="km"/>
<line x1="913.0" y1="363.2" x2="932.0" y2="363.2" class="km"/>
<line x1="913.0" y1="367.2" x2="932.0" y2="367.2" class="km"/>
<path d="M788.8,298.6 L788.8,291.2 Q789,286.2 794,284.2" class="ds"/>
<path d="M795.8,298.6 L795.8,291.2 Q796,286.2 801,284.2" class="ds"/>
<line x1="802.3" y1="293.8" x2="802.3" y2="313.2" class="t"/>
<line x1="789.2" y1="313.2" x2="789.2" y2="328.5" class="t"/>
<line x1="795.8" y1="313.2" x2="795.8" y2="328.5" class="t"/>
<line x1="788.8" y1="335.2" x2="794.5" y2="341.9" class="ds"/>
<line x1="795.8" y1="335.2" x2="801.0" y2="341.9" class="ds"/>
<line x1="802.3" y1="333.2" x2="802.3" y2="342.4" class="t"/>
<text x="709.0" y="116.0" font-size="18" text-anchor="start" class="tx">Datorită faptului</text>
<text x="709.0" y="136.5" font-size="18" text-anchor="start" class="tx">că orificiu osiei nu</text>
<text x="709.0" y="157.0" font-size="18" text-anchor="start" class="tx">este transversal</text>
<line x1="832.0" y1="57.4" x2="972.0" y2="57.4" class="t"/>
<line x1="968.0" y1="57.4" x2="968.0" y2="313.2" class="t"/>
<path d="M968.0,57.4 L970.0,67.4 L966.0,67.4 Z" fill="#000"/>
<path d="M968.0,313.2 L966.0,303.2 L970.0,303.2 Z" fill="#000"/>
<text x="0.0" y="0.0" font-size="17" text-anchor="start" class="tx dim" transform="translate(964,193) rotate(-90)">120</text>
<line x1="722.0" y1="284.3" x2="807.6" y2="284.3" class="t"/>
<line x1="807.6" y1="284.3" x2="820.0" y2="284.3" class="ds"/>
<line x1="722.0" y1="342.4" x2="797.0" y2="342.4" class="t"/>
<line x1="797.0" y1="342.4" x2="815.0" y2="342.4" class="ds"/>
<line x1="728.5" y1="284.3" x2="728.5" y2="342.4" class="t"/>
<path d="M728.5,284.3 L730.5,294.3 L726.5,294.3 Z" fill="#000"/>
<path d="M728.5,342.4 L726.5,332.4 L730.5,332.4 Z" fill="#000"/>
<text x="0.0" y="0.0" font-size="17" text-anchor="start" class="tx dim" transform="translate(727,328) rotate(-90)">ø28</text>
<line x1="755.0" y1="328.5" x2="815.0" y2="328.5" class="t"/>
<line x1="770.5" y1="287.5" x2="770.5" y2="328.5" class="t"/>
<path d="M770.5,328.5 L768.5,318.5 L772.5,318.5 Z" fill="#000"/>
<text x="0.0" y="0.0" font-size="17" text-anchor="start" class="tx dim" transform="translate(759,316) rotate(-90)">ø14</text>
<text x="0.0" y="0.0" font-size="14" text-anchor="start" class="tx dim" transform="translate(752,286) rotate(-90)">H8</text>
<line x1="815.5" y1="372.0" x2="815.5" y2="409.0" class="t"/>
<line x1="882.4" y1="372.0" x2="882.4" y2="409.0" class="t"/>
<line x1="815.5" y1="404.5" x2="882.4" y2="404.5" class="t"/>
<path d="M815.5,404.5 L825.5,402.5 L825.5,406.5 Z" fill="#000"/>
<path d="M882.4,404.5 L872.4,406.5 L872.4,402.5 Z" fill="#000"/>
<text x="849.0" y="400.0" font-size="17" text-anchor="middle" class="tx dim">31</text>
<line x1="933.0" y1="316.0" x2="955.0" y2="352.0" class="t"/>
<path d="M933.0,316.0 L939.9,323.5 L936.5,325.6 Z" fill="#000"/>
<line x1="955.0" y1="352.0" x2="982.0" y2="352.0" class="t"/>
<circle cx="967.0" cy="343.0" r="6.2" fill="#fff" stroke="#000" stroke-width="1.6"/>
<path d="M967.0,343.0 L973.2,343.0 A6.2,6.2 0 0 0 967.0,336.8 Z" fill="#000"/>
<path d="M967.0,343.0 L960.8,343.0 A6.2,6.2 0 0 0 967.0,349.2 Z" fill="#000"/>
<line x1="960.8" y1="343.0" x2="973.2" y2="343.0" class="t"/>
<line x1="967.0" y1="336.8" x2="967.0" y2="349.2" class="t"/>
<path d="M895.7,502.0 L857.3,502.0 L854.6,500.2 L852.0,498.1 L849.6,495.9 L847.4,493.4 L845.5,490.7 L843.8,487.9 L842.3,485.0 L841.1,481.9 L840.2,478.8 L839.5,475.6 L839.1,472.3 L839.0,469.0 L839.2,465.7 L839.7,462.5 L840.4,459.3 L841.4,456.2 L842.7,453.1 L844.3,450.2 L846.0,447.5 L848.1,444.9 L850.3,442.5 L852.7,440.3 L855.4,438.3 L858.1,436.5 L861.1,435.0 L864.1,433.8 L867.2,432.8 L870.5,432.1 L873.7,431.6 L877.0,431.5 L880.3,431.6 L883.5,432.1 L886.8,432.8 L889.9,433.8 L892.9,435.0 L895.9,436.5 L898.6,438.3 L901.3,440.3 L903.7,442.5 L905.9,444.9 L908.0,447.5 L909.7,450.2 L911.3,453.1 L912.6,456.2 L913.6,459.3 L914.3,462.5 L914.8,465.7 L915.0,469.0 L914.9,472.3 L914.5,475.6 L913.8,478.8 L912.9,481.9 L911.7,485.0 L910.2,487.9 L908.5,490.7 L906.6,493.4 L904.4,495.9 L902.0,498.1 L899.4,500.2 L896.7,502.0 L858.3,502.0" class="k"/>
<line x1="858.3" y1="502.0" x2="895.7" y2="502.0" class="k"/>
<line x1="877.0" y1="425.5" x2="877.0" y2="695.5" class="dd"/>
<line x1="832.0" y1="469.5" x2="922.0" y2="469.5" class="dd"/>
<line x1="861.5" y1="502.0" x2="861.5" y2="657.5" class="k"/>
<line x1="893.0" y1="502.0" x2="893.0" y2="586.0" class="k"/>
<line x1="893.0" y1="604.0" x2="893.0" y2="657.5" class="k"/>
<path d="M843.0,670.0 L856.0,670.0 L856.0,652.5 L860.0,648.0 L861.5,648.0 L865.0,657.5 L865.0,687.5 L860.0,687.5 L850.0,681.5 L843.0,678.5 Z" fill="url(#hpE)"/>
<path d="M893.0,648.0 L895.0,648.0 L899.0,652.5 L899.0,678.5 L895.0,686.5 L890.0,687.5 L890.0,657.5 Z" fill="url(#hpE)"/>
<path d="M843,678.5 Q848,680.5 856,684.5 Q862,688.5 877,689.5 Q892,689.5 899,680.5" class="km"/>
<path d="M856.0,670.0 L856.0,652.5 L860.0,648.0 L895.0,648.0 L899.0,652.5 L899.0,666.2" class="k"/>
<line x1="865.0" y1="657.5" x2="865.0" y2="688.5" class="km"/>
<line x1="890.0" y1="657.5" x2="890.0" y2="688.5" class="km"/>
<line x1="861.5" y1="657.5" x2="893.0" y2="657.5" class="k"/>
<line x1="868.0" y1="659.5" x2="868.0" y2="685.5" class="t"/>
<line x1="887.0" y1="659.5" x2="887.0" y2="685.5" class="t"/>
<line x1="865.0" y1="685.5" x2="890.0" y2="685.5" class="t"/>
<path d="M822.4,725.5 L822.4,687.2 L828.0,687.2 L828.0,682.0 L833.8,682.0 L833.8,670.0 L837.5,666.2 L856.0,666.2" class="k"/>
<line x1="837.5" y1="670.0" x2="856.0" y2="670.0" class="km"/>
<path d="M820.0,697.8 L815.4,701.9 L815.4,749.2 L819.0,754.6" class="k"/>
<line x1="899.0" y1="666.2" x2="932.5" y2="666.2" class="k"/>
<line x1="932.5" y1="666.2" x2="932.5" y2="784.0" class="k"/>
<line x1="913.0" y1="666.2" x2="913.0" y2="754.5" class="k"/>
<line x1="841.2" y1="670.0" x2="841.2" y2="725.5" class="k"/>
<line x1="830.5" y1="682.0" x2="830.5" y2="725.5" class="t"/>
<line x1="838.0" y1="670.0" x2="838.0" y2="725.5" class="t"/>
<line x1="787.0" y1="725.5" x2="972.0" y2="725.5" class="dd"/>
<line x1="815.4" y1="740.5" x2="913.0" y2="740.5" class="k"/>
<rect x="815.4" y="740.5" width="66.6" height="13.8" fill="url(#hpA)"/>
<rect x="896.5" y="740.5" width="16.5" height="13.8" fill="url(#hpA)"/>
<line x1="815.4" y1="754.2" x2="932.5" y2="754.2" class="k"/>
<line x1="882.0" y1="725.5" x2="882.0" y2="777.2" class="k"/>
<line x1="896.5" y1="725.5" x2="896.5" y2="777.2" class="k"/>
<line x1="889.5" y1="717.5" x2="889.5" y2="787.5" class="dd"/>
<rect x="874.4" y="754.2" width="7.6" height="23.0" fill="url(#hpB)"/>
<rect x="896.5" y="754.2" width="7.5" height="23.0" fill="url(#hpB)"/>
<path d="M819.0,754.6 L821.7,755.5 L821.7,764.2 L828.2,764.2 L828.2,769.2 L834.0,769.2 L834.0,781.5 L837.0,785.0 L932.5,785.0" class="k"/>
<line x1="821.7" y1="764.2" x2="847.7" y2="764.2" class="km"/>
<rect x="834.0" y="764.2" width="7.9" height="17.2" fill="url(#hpB)"/>
<rect x="841.9" y="764.2" width="32.5" height="13.0" fill="url(#hpB)"/>
<line x1="841.9" y1="764.2" x2="874.4" y2="764.2" class="k"/>
<line x1="841.9" y1="764.2" x2="841.9" y2="781.5" class="k"/>
<line x1="874.4" y1="754.2" x2="874.4" y2="778.5" class="k"/>
<path d="M847.7,754.2 L847.7,762.2 L874.4,762.2" class="km"/>
<line x1="841.9" y1="777.5" x2="913.0" y2="777.5" class="km"/>
<rect x="842.0" y="778.0" width="71.0" height="5.0" fill="url(#hpC)"/>
<line x1="904.0" y1="754.2" x2="904.0" y2="777.5" class="km"/>
<line x1="913.0" y1="754.2" x2="913.0" y2="785.0" class="k"/>
<rect x="913.5" y="756.0" width="18.5" height="11.5" fill="url(#hpD)"/>
<line x1="913.0" y1="767.5" x2="932.5" y2="767.5" class="km"/>
<line x1="913.0" y1="771.5" x2="932.0" y2="771.5" class="km"/>
<line x1="913.0" y1="775.5" x2="932.0" y2="775.5" class="km"/>
<line x1="913.0" y1="779.5" x2="932.0" y2="779.5" class="km"/>
<path d="M788.3,710.5 L788.3,702.5 Q789,697.5 794,696.0 L815,696.0" class="ds"/>
<path d="M795.6,710.5 L795.6,702.5 Q796,698.5 800,696.5" class="ds"/>
<line x1="802.3" y1="706.0" x2="802.3" y2="725.5" class="t"/>
<line x1="785.0" y1="725.5" x2="797.0" y2="725.5" class="t"/>
<line x1="788.3" y1="725.5" x2="788.3" y2="741.0" class="ds"/>
<line x1="795.6" y1="725.5" x2="795.6" y2="741.0" class="ds"/>
<line x1="789.0" y1="748.5" x2="794.5" y2="755.0" class="ds"/>
<line x1="797.0" y1="747.5" x2="802.3" y2="755.0" class="ds"/>
<line x1="802.3" y1="755.0" x2="815.0" y2="755.0" class="ds"/>
<line x1="841.8" y1="483.7" x2="912.2" y2="455.3" class="t"/>
<path d="M841.8,483.7 L850.3,478.1 L851.8,481.8 Z" fill="#000"/>
<path d="M912.2,455.3 L903.7,460.9 L902.2,457.2 Z" fill="#000"/>
<text x="0.0" y="0.0" font-size="17" text-anchor="start" class="tx dim" transform="translate(852,474) rotate(-22)">35</text>
<line x1="839.0" y1="534.0" x2="935.0" y2="534.0" class="t"/>
<path d="M861.5,534.0 L851.5,536.0 L851.5,532.0 Z" fill="#000"/>
<path d="M893.0,534.0 L903.0,532.0 L903.0,536.0 Z" fill="#000"/>
<text x="907.0" y="530.0" font-size="17" text-anchor="start" class="tx dim">ø14</text>
<line x1="877.0" y1="600.7" x2="931.8" y2="600.7" class="t"/>
<path d="M931.8,600.7 L921.8,602.7 L921.8,598.7 Z" fill="#000"/>
<line x1="931.8" y1="596.0" x2="931.8" y2="667.0" class="t"/>
<text x="897.0" y="596.7" font-size="17" text-anchor="start" class="tx dim">26</text>
<line x1="932.0" y1="667.0" x2="978.0" y2="667.0" class="t"/>
<line x1="932.0" y1="784.0" x2="978.0" y2="784.0" class="t"/>
<line x1="973.6" y1="667.0" x2="973.6" y2="784.0" class="t"/>
<path d="M973.6,667.0 L975.6,677.0 L971.6,677.0 Z" fill="#000"/>
<path d="M973.6,784.0 L971.6,774.0 L975.6,774.0 Z" fill="#000"/>
<text x="0.0" y="0.0" font-size="17" text-anchor="start" class="tx dim" transform="translate(971,730) rotate(-90)">ø55</text>
<line x1="932.0" y1="728.0" x2="963.0" y2="808.0" class="t"/>
<path d="M932.0,728.0 L937.5,736.6 L933.7,738.0 Z" fill="#000"/>
<line x1="963.0" y1="808.0" x2="1000.0" y2="808.0" class="t"/>
<circle cx="985.0" cy="800.0" r="6.2" fill="#fff" stroke="#000" stroke-width="1.6"/>
<path d="M985.0,800.0 L991.2,800.0 A6.2,6.2 0 0 0 985.0,793.8 Z" fill="#000"/>
<path d="M985.0,800.0 L978.8,800.0 A6.2,6.2 0 0 0 985.0,806.2 Z" fill="#000"/>
<line x1="978.8" y1="800.0" x2="991.2" y2="800.0" class="t"/>
<line x1="985.0" y1="793.8" x2="985.0" y2="806.2" class="t"/>
<text x="714.8" y="583.4" font-size="18" text-anchor="start" class="tx">Orificiu de la un</text>
<text x="714.8" y="604.5" font-size="18" text-anchor="start" class="tx">capat la celalalt</text>
<text x="583.0" y="669.2" font-size="18" text-anchor="start" class="tx">Bucsa de presiune,</text>
<text x="583.0" y="690.7" font-size="18" text-anchor="start" class="tx">Deplasare doar axială</text>
<line x1="583.0" y1="698.0" x2="772.0" y2="698.0" class="t"/>
<line x1="772.0" y1="698.0" x2="823.7" y2="741.0" class="t"/>
<text x="606.5" y="739.0" font-size="18" text-anchor="start" class="tx">Deplasarea clemei</text>
<text x="606.5" y="760.4" font-size="18" text-anchor="start" class="tx">cu mecanism</text>
<text x="606.5" y="781.0" font-size="18" text-anchor="start" class="tx">de autoblocare</text>
<text x="768.0" y="780.0" font-size="17" text-anchor="start" class="tx dim">2</text>
<line x1="602.0" y1="790.5" x2="819.4" y2="790.5" class="t"/>
<path d="M788.3,790.5 L778.3,792.5 L778.3,788.5 Z" fill="#000"/>
<path d="M795.6,790.5 L805.6,788.5 L805.6,792.5 Z" fill="#000"/>
<text x="644.0" y="812.9" font-size="18" text-anchor="start" class="tx">Deplasare rapidă</text>
<text x="796.0" y="812.9" font-size="17" text-anchor="start" class="tx dim">10</text>
<line x1="643.0" y1="822.0" x2="838.7" y2="822.0" class="t"/>
<path d="M795.6,822.0 L785.6,824.0 L785.6,820.0 Z" fill="#000"/>
<path d="M815.2,822.0 L825.2,820.0 L825.2,824.0 Z" fill="#000"/>
<text x="894.0" y="812.0" font-size="17" text-anchor="start" class="tx dim">9</text>
<line x1="888.0" y1="822.0" x2="955.0" y2="822.0" class="t"/>
<path d="M913.0,822.0 L923.0,820.0 L923.0,824.0 Z" fill="#000"/>
<path d="M932.0,822.0 L922.0,824.0 L922.0,820.0 Z" fill="#000"/>
<line x1="788.3" y1="748.0" x2="788.3" y2="793.4" class="t"/>
<line x1="795.6" y1="723.6" x2="795.6" y2="825.3" class="t"/>
<line x1="815.2" y1="755.0" x2="815.2" y2="895.0" class="t"/>
<line x1="833.0" y1="785.0" x2="833.0" y2="860.0" class="t"/>
<line x1="931.0" y1="785.0" x2="931.0" y2="895.0" class="t"/>
<line x1="913.0" y1="785.0" x2="913.0" y2="830.0" class="t"/>
<line x1="833.0" y1="853.7" x2="931.0" y2="853.7" class="t"/>
<path d="M833.0,853.7 L843.0,851.7 L843.0,855.7 Z" fill="#000"/>
<path d="M931.0,853.7 L921.0,855.7 L921.0,851.7 Z" fill="#000"/>
<text x="884.0" y="846.4" font-size="17" text-anchor="middle" class="tx dim">46,5</text>
<line x1="815.0" y1="888.0" x2="931.0" y2="888.0" class="t"/>
<path d="M815.0,888.0 L825.0,886.0 L825.0,890.0 Z" fill="#000"/>
<path d="M931.0,888.0 L921.0,890.0 L921.0,886.0 Z" fill="#000"/>
<text x="873.0" y="880.8" font-size="17" text-anchor="middle" class="tx dim">54,5</text>
<path d="M145.0,539.0 L239.6,539.0 L239.6,656.4 L145.0,656.4 L141.0,652.0 L141.0,543.0 L145.0,539.0" class="k"/>
<line x1="150.0" y1="539.0" x2="150.0" y2="656.4" class="k"/>
<line x1="146.0" y1="541.0" x2="146.0" y2="654.0" class="t"/>
<line x1="220.0" y1="539.0" x2="220.0" y2="656.4" class="k"/>
<line x1="150.0" y1="544.0" x2="220.0" y2="544.0" class="km"/>
<path d="M163,539 L166,523 L169,521 L169,506 Q185,501 201,506 L201,521 L204,523 L207,539" class="k"/>
<line x1="163.0" y1="523.0" x2="207.0" y2="523.0" class="km"/>
<path d="M165,539 Q185,548 205,539" class="km"/>
<line x1="184.4" y1="500.0" x2="184.4" y2="548.0" class="dd"/>
<path d="M140.0,554.5 L135.5,554.5 L135.5,641.0 L140.0,641.0" class="k"/>
<path d="M135.5,559.0 L128.2,559.0 L128.2,636.4 L135.5,636.4" class="k"/>
<path d="M128.2,568.5 L103.6,568.5 L96.4,575.5 L96.4,598.5" class="k"/>
<line x1="104.5" y1="575.0" x2="104.5" y2="598.5" class="km"/>
<path d="M96.4,598.5 L96.4,620 Q97,627 104,627.3 L128,627.3" class="kds"/>
<line x1="117.3" y1="568.5" x2="117.3" y2="598.0" class="ds"/>
<line x1="123.6" y1="568.5" x2="123.6" y2="598.0" class="ds"/>
<line x1="110.0" y1="598.5" x2="110.0" y2="625.0" class="ds"/>
<path d="M124,598 L124,620 Q125,626 130,629" class="km"/>
<line x1="93.6" y1="598.5" x2="250.0" y2="598.5" class="dd"/>
<line x1="23.6" y1="584.5" x2="95.5" y2="584.5" class="t"/>
<path d="M95.5,584.5 L80.5,586.7 L80.5,582.3 Z" fill="#000"/>
<line x1="23.6" y1="611.0" x2="93.6" y2="611.0" class="t"/>
<path d="M23.6,611.0 L38.6,608.8 L38.6,613.2 Z" fill="#000"/>
<path d="M24.7,548.0 L38.3,548.0 L38.3,543.0 L48.5,557.5 L38.3,572.0 L38.3,567.0 L24.7,567.0 Z" class="km"/>
<text x="0.0" y="0.0" font-size="18" text-anchor="start" class="tx" transform="translate(42.5,563.5) rotate(-90)">F</text>
<path d="M50.8,629.4 L37.2,629.4 L37.2,624.8 L27.0,639.2 L37.2,653.6 L37.2,648.0 L50.8,648.0 Z" class="km"/>
<text x="0.0" y="0.0" font-size="18" text-anchor="start" class="tx" transform="translate(48.5,644) rotate(-90)">F</text>
<line x1="73.6" y1="504.5" x2="140.0" y2="504.5" class="t"/>
<path d="M96.9,504.5 L86.9,506.5 L86.9,502.5 Z" fill="#000"/>
<path d="M116.9,504.5 L126.9,502.5 L126.9,506.5 Z" fill="#000"/>
<line x1="96.9" y1="495.0" x2="96.9" y2="598.0" class="t"/>
<line x1="116.9" y1="495.0" x2="116.9" y2="568.0" class="t"/>
<text x="99.0" y="499.0" font-size="17" text-anchor="start" class="tx dim">10</text>
<line x1="93.6" y1="528.5" x2="146.4" y2="528.5" class="t"/>
<path d="M116.9,528.5 L106.9,530.5 L106.9,526.5 Z" fill="#000"/>
<path d="M123.6,528.5 L133.6,526.5 L133.6,530.5 Z" fill="#000"/>
<line x1="123.6" y1="520.0" x2="123.6" y2="568.0" class="t"/>
<text x="118.0" y="523.6" font-size="17" text-anchor="start" class="tx dim">2</text>
<line x1="73.6" y1="657.6" x2="126.4" y2="657.6" class="t"/>
<path d="M96.9,657.6 L86.9,659.6 L86.9,655.6 Z" fill="#000"/>
<path d="M103.6,657.6 L113.6,655.6 L113.6,659.6 Z" fill="#000"/>
<line x1="96.9" y1="627.0" x2="96.9" y2="662.0" class="t"/>
<line x1="103.6" y1="627.0" x2="103.6" y2="690.0" class="t"/>
<text x="77.3" y="652.7" font-size="17" text-anchor="start" class="tx dim">2</text>
<line x1="80.0" y1="682.7" x2="146.4" y2="682.7" class="t"/>
<path d="M103.6,682.7 L93.6,684.7 L93.6,680.7 Z" fill="#000"/>
<path d="M123.6,682.7 L133.6,680.7 L133.6,684.7 Z" fill="#000"/>
<line x1="123.6" y1="628.0" x2="123.6" y2="690.0" class="t"/>
<text x="106.4" y="678.2" font-size="17" text-anchor="start" class="tx dim">10</text>
<text x="243.0" y="555.6" font-size="18" text-anchor="start" class="tx">Tragere</text>
<text x="243.6" y="650.6" font-size="18" text-anchor="start" class="tx">Impinge</text>
<ellipse cx="438" cy="554.8" rx="53.6" ry="15.2" class="k"/>
<ellipse cx="438" cy="555.5999999999999" rx="36.4" ry="9.6" class="k"/>
<path d="M418,566 Q420,558 432,557 L466,555 Q474,556 472,561" class="k"/>
<line x1="384.4" y1="554.8" x2="384.4" y2="622.8" class="k"/>
<path d="M384.4,622.8 Q390,634 438,637.2 Q475,636 486,629" class="k"/>
<path d="M491.6,554.8 L491.6,566 Q486,580 486,600 L486,629" class="k"/>
<path d="M491.6,567.0 L518.0,568.0 L518.0,610.0 L496.4,610.0" class="k"/>
<path d="M486.8,598.0 L494.0,596.0 L496.4,600.0 L496.4,627.0 L492.0,631.0 L486.8,630.0" class="km"/>
<line x1="493.0" y1="605.0" x2="493.0" y2="625.0" class="t"/>
<path d="M392.4,590.8 C391.3,588.1 390.7,584.1 391.6,581.2 C392.5,578.3 393.6,574.0 398.0,573.2 C402.4,572.4 408.3,575.3 418.0,576.4 C427.7,577.5 447.9,577.7 456.4,579.6 C464.9,581.5 465.2,584.1 469.2,587.6 C473.2,591.1 477.7,596.1 480.4,600.4 C483.1,604.7 484.7,609.5 485.2,613.2 C485.7,616.9 485.5,620.7 483.6,622.8 C481.7,624.9 477.2,626.5 474.0,626.0 C470.8,625.5 467.9,622.3 464.4,619.6 C460.9,616.9 457.7,612.4 453.2,610.0 C448.7,607.6 444.4,606.5 437.2,605.2 C430.0,603.9 416.5,603.3 410.0,602.0 C403.5,600.7 400.9,599.1 398.0,597.2 C395.1,595.3 393.5,593.5 392.4,590.8 Z" class="k"/>
<path d="M404.4,576.4 C404.3,578.5 402.7,585.2 403.9,589.2 C405.1,593.2 410.3,598.5 411.6,600.4" class="km"/>
<line x1="422.8" y1="580.4" x2="414.0" y2="600.4" class="km"/>
<line x1="434.0" y1="581.2" x2="425.2" y2="602.8" class="km"/>
<line x1="448.4" y1="581.2" x2="437.2" y2="604.4" class="km"/>
<path d="M458.8,585.2 C460.8,587.2 468.0,591.5 470.8,597.2 C473.6,602.9 474.8,615.9 475.6,619.6" class="km"/>
<path d="M459.6,616.4 C461.2,616.5 465.5,617.7 469.2,617.2 C472.9,616.7 479.9,613.9 482.0,613.2" class="t"/>
<line x1="402.0" y1="583.0" x2="450.0" y2="585.0" class="t"/>
<line x1="402.0" y1="583.0" x2="402.0" y2="632.0" class="t"/>
<line x1="456.0" y1="596.0" x2="456.0" y2="636.0" class="t"/>
<line x1="476.0" y1="612.0" x2="476.0" y2="634.0" class="t"/>
<line x1="438.0" y1="531.6" x2="438.0" y2="650.0" class="dd"/>
<line x1="378.0" y1="554.8" x2="496.4" y2="554.8" class="t"/>
<line x1="350.7" y1="506.9" x2="482.0" y2="616.4" class="t"/>
<line x1="319.5" y1="595.3" x2="456.0" y2="595.3" class="t"/>
<path d="M350.7,506.9 Q318,545 319.5,595.3" class="t"/>
<path d="M350.7,506.9 L345.2,515.5 L342.3,512.7 Z" fill="#000"/>
<path d="M319.5,595.3 L317.8,585.2 L321.8,585.4 Z" fill="#000"/>
<text x="0.0" y="0.0" font-size="17" text-anchor="start" class="tx dim" transform="translate(326,556) rotate(-70)">45°</text>
<line x1="322.0" y1="585.2" x2="440.4" y2="594.0" class="t"/>
<line x1="372.8" y1="577.0" x2="396.2" y2="587.5" class="t"/>
<path d="M356,568 Q358,590 356,612" class="t"/>
<path d="M357.0,582.0 L354.2,572.2 L358.2,571.9 Z" fill="#000"/>
<path d="M357.0,595.0 L359.0,605.0 L355.0,605.0 Z" fill="#000"/>
<text x="0.0" y="0.0" font-size="16" text-anchor="start" class="tx dim" transform="translate(348,593) rotate(-80)">4°30'</text>
<line x1="400.0" y1="635.6" x2="366.3" y2="661.6" class="t"/>
<line x1="456.0" y1="635.6" x2="472.9" y2="698.0" class="t"/>
<line x1="476.8" y1="635.6" x2="510.6" y2="675.9" class="t"/>
<path d="M366.3,661.6 Q451.5,727.2 510.6,675.9" class="t"/>
<path d="M366.3,661.6 L375.9,665.1 L373.8,668.5 Z" fill="#000"/>
<path d="M472.9,696.0 L463.3,699.5 L462.7,695.6 Z" fill="#000"/>
<path d="M472.9,696.0 L481.8,691.0 L483.0,694.8 Z" fill="#000"/>
<path d="M510.6,675.9 L503.9,683.6 L501.4,680.4 Z" fill="#000"/>
<text x="0.0" y="0.0" font-size="17" text-anchor="start" class="tx dim" transform="translate(403,681) rotate(15)">65°</text>
<text x="0.0" y="0.0" font-size="17" text-anchor="start" class="tx dim" transform="translate(478,692) rotate(-38)">25°</text>
<text x="379.3" y="726.6" font-size="18" text-anchor="start" class="tx">Camă de tensiune</text>
<text x="40.6" y="869.4" font-size="25" text-anchor="start" class="bt" textLength="122" lengthAdjust="spacingAndGlyphs">Accesorii</text>
<line x1="43.4" y1="873.0" x2="176.4" y2="873.0" class="km"/>
<path d="M94.6,942.2 L121.8,929.0 L121.8,992.6 L94.6,977.2 Z" class="k"/>
<path d="M121.8,929.0 L148.4,929.0 L148.4,992.6 L121.8,992.6 Z" class="k"/>
<path d="M148.4,941.4 L207.0,941.4 L211.4,946.0 L211.4,975.0 L207.0,979.2 L148.4,979.2" class="k"/>
<line x1="207.0" y1="941.4" x2="207.0" y2="979.2" class="t"/>
<line x1="88.0" y1="961.0" x2="217.0" y2="961.0" class="dd"/>
<line x1="50.0" y1="929.0" x2="121.8" y2="929.0" class="t"/>
<line x1="50.0" y1="992.6" x2="90.0" y2="992.6" class="t"/>
<line x1="100.0" y1="992.6" x2="121.8" y2="992.6" class="t"/>
<line x1="53.2" y1="929.0" x2="53.2" y2="992.6" class="t"/>
<path d="M53.2,929.0 L55.2,939.0 L51.2,939.0 Z" fill="#000"/>
<path d="M53.2,992.6 L51.2,982.6 L55.2,982.6 Z" fill="#000"/>
<text x="0.0" y="0.0" font-size="17" text-anchor="start" class="tx dim" transform="translate(50,971) rotate(-90)">24</text>
<line x1="94.6" y1="977.0" x2="94.6" y2="1053.0" class="t"/>
<line x1="121.8" y1="992.6" x2="121.8" y2="1025.0" class="t"/>
<line x1="148.4" y1="992.6" x2="148.4" y2="1025.0" class="t"/>
<line x1="211.4" y1="979.2" x2="211.4" y2="1053.0" class="t"/>
<line x1="94.6" y1="1022.0" x2="211.4" y2="1022.0" class="t"/>
<path d="M94.6,1022.0 L104.6,1020.0 L104.6,1024.0 Z" fill="#000"/>
<path d="M121.8,1022.0 L111.8,1024.0 L111.8,1020.0 Z" fill="#000"/>
<path d="M121.8,1022.0 L131.8,1020.0 L131.8,1024.0 Z" fill="#000"/>
<path d="M148.4,1022.0 L138.4,1024.0 L138.4,1020.0 Z" fill="#000"/>
<path d="M148.4,1022.0 L158.4,1020.0 L158.4,1024.0 Z" fill="#000"/>
<path d="M211.4,1022.0 L201.4,1024.0 L201.4,1020.0 Z" fill="#000"/>
<text x="127.0" y="1016.0" font-size="17" text-anchor="start" class="tx dim">10</text>
<text x="166.0" y="1016.0" font-size="17" text-anchor="start" class="tx dim">24</text>
<line x1="94.6" y1="1050.0" x2="211.4" y2="1050.0" class="t"/>
<path d="M94.6,1050.0 L104.6,1048.0 L104.6,1052.0 Z" fill="#000"/>
<path d="M211.4,1050.0 L201.4,1052.0 L201.4,1048.0 Z" fill="#000"/>
<text x="152.6" y="1045.0" font-size="17" text-anchor="middle" class="tx dim">44</text>
<line x1="211.0" y1="941.4" x2="246.0" y2="941.4" class="t"/>
<line x1="211.0" y1="979.2" x2="246.0" y2="979.2" class="t"/>
<line x1="241.4" y1="882.0" x2="241.4" y2="979.2" class="t"/>
<path d="M241.4,941.4 L243.4,951.4 L239.4,951.4 Z" fill="#000"/>
<path d="M241.4,979.2 L239.4,969.2 L243.4,969.2 Z" fill="#000"/>
<text x="0.0" y="0.0" font-size="17" text-anchor="start" class="tx dim" transform="translate(233,928) rotate(-90)">ø14</text>
<text x="0.0" y="0.0" font-size="14" text-anchor="start" class="tx dim" transform="translate(236,898) rotate(-90)">h8</text>
<text x="0.0" y="0.0" font-size="17" text-anchor="start" class="tx dim" transform="translate(64,920) rotate(-75)">30°</text>
<path d="M74,912 Q66,945 88,968" class="t"/>
<line x1="74.0" y1="955.0" x2="121.8" y2="929.0" class="t"/>
<line x1="151.0" y1="954.8" x2="173.6" y2="915.0" class="t"/>
<path d="M151.0,954.8 L154.2,945.1 L157.7,947.1 Z" fill="#000"/>
<line x1="173.6" y1="915.0" x2="201.6" y2="915.0" class="t"/>
<circle cx="188.5" cy="905.8" r="6.2" fill="#fff" stroke="#000" stroke-width="1.6"/>
<path d="M188.5,905.8 L194.7,905.8 A6.2,6.2 0 0 0 188.5,899.6 Z" fill="#000"/>
<path d="M188.5,905.8 L182.3,905.8 A6.2,6.2 0 0 0 188.5,912.0 Z" fill="#000"/>
<line x1="182.3" y1="905.8" x2="194.7" y2="905.8" class="t"/>
<line x1="188.5" y1="899.6" x2="188.5" y2="912.0" class="t"/>
<text x="130.8" y="1101.0" font-size="26" text-anchor="start" class="bt" textLength="41.6" lengthAdjust="spacingAndGlyphs">Con</text>
<path d="M373.8,928.0 L427.0,928.0 L427.0,992.5 L373.8,992.5 L373.8,987.0 L400.4,964.0 L404.6,964.0 L404.6,955.0 L400.4,955.0 L373.8,933.0 L373.8,928.0" class="k"/>
<path d="M427.0,941.8 L486.0,941.8 L490.0,946.0 L490.0,975.0 L486.0,979.0 L427.0,979.0" class="k"/>
<line x1="486.0" y1="941.8" x2="486.0" y2="979.0" class="t"/>
<line x1="357.0" y1="960.0" x2="495.6" y2="960.0" class="dd"/>
<line x1="351.4" y1="905.4" x2="425.6" y2="905.4" class="t"/>
<path d="M373.8,905.4 L363.8,907.4 L363.8,903.4 Z" fill="#000"/>
<path d="M402.6,905.4 L412.6,903.4 L412.6,907.4 Z" fill="#000"/>
<line x1="373.8" y1="898.0" x2="373.8" y2="928.0" class="t"/>
<line x1="402.6" y1="898.0" x2="402.6" y2="955.0" class="t"/>
<text x="389.0" y="899.0" font-size="17" text-anchor="middle" class="tx dim">11</text>
<line x1="330.0" y1="928.0" x2="373.8" y2="928.0" class="t"/>
<line x1="330.0" y1="992.0" x2="373.8" y2="992.0" class="t"/>
<line x1="332.6" y1="928.0" x2="332.6" y2="992.0" class="t"/>
<path d="M332.6,928.0 L334.6,938.0 L330.6,938.0 Z" fill="#000"/>
<path d="M332.6,992.0 L330.6,982.0 L334.6,982.0 Z" fill="#000"/>
<text x="0.0" y="0.0" font-size="17" text-anchor="start" class="tx dim" transform="translate(330,975) rotate(-90)">ø24</text>
<line x1="357.0" y1="956.0" x2="402.0" y2="956.0" class="t"/>
<line x1="357.0" y1="963.6" x2="402.0" y2="963.6" class="t"/>
<line x1="361.0" y1="933.0" x2="361.0" y2="987.0" class="t"/>
<path d="M361.0,956.0 L359.0,946.0 L363.0,946.0 Z" fill="#000"/>
<path d="M361.0,963.6 L363.0,973.6 L359.0,973.6 Z" fill="#000"/>
<text x="0.0" y="0.0" font-size="17" text-anchor="start" class="tx dim" transform="translate(357,946) rotate(-90)">3</text>
<line x1="330.4" y1="889.4" x2="373.8" y2="933.0" class="t"/>
<line x1="330.4" y1="1029.4" x2="373.8" y2="987.0" class="t"/>
<path d="M330.4,889.4 Q283,960 330.4,1029.4" class="t"/>
<path d="M330.4,889.4 L325.6,898.4 L322.5,895.8 Z" fill="#000"/>
<path d="M330.4,1029.4 L322.7,1022.7 L325.8,1020.3 Z" fill="#000"/>
<text x="0.0" y="0.0" font-size="17" text-anchor="start" class="tx dim" transform="translate(300,975) rotate(-90)">90°</text>
<line x1="427.0" y1="979.0" x2="427.0" y2="1025.0" class="t"/>
<line x1="490.0" y1="979.0" x2="490.0" y2="1055.0" class="t"/>
<line x1="373.8" y1="992.5" x2="373.8" y2="1055.0" class="t"/>
<line x1="427.0" y1="1021.6" x2="490.0" y2="1021.6" class="t"/>
<path d="M427.0,1021.6 L437.0,1019.6 L437.0,1023.6 Z" fill="#000"/>
<path d="M490.0,1021.6 L480.0,1023.6 L480.0,1019.6 Z" fill="#000"/>
<text x="459.0" y="1017.0" font-size="17" text-anchor="middle" class="tx dim">24</text>
<line x1="373.8" y1="1051.0" x2="490.0" y2="1051.0" class="t"/>
<path d="M373.8,1051.0 L383.8,1049.0 L383.8,1053.0 Z" fill="#000"/>
<path d="M490.0,1051.0 L480.0,1053.0 L480.0,1049.0 Z" fill="#000"/>
<text x="432.6" y="1046.0" font-size="17" text-anchor="middle" class="tx dim">44</text>
<line x1="490.0" y1="941.8" x2="523.0" y2="941.8" class="t"/>
<line x1="490.0" y1="979.0" x2="523.0" y2="979.0" class="t"/>
<line x1="518.6" y1="878.0" x2="518.6" y2="979.0" class="t"/>
<path d="M518.6,941.8 L520.6,951.8 L516.6,951.8 Z" fill="#000"/>
<path d="M518.6,979.0 L516.6,969.0 L520.6,969.0 Z" fill="#000"/>
<text x="0.0" y="0.0" font-size="17" text-anchor="start" class="tx dim" transform="translate(510,925) rotate(-90)">ø14</text>
<text x="0.0" y="0.0" font-size="14" text-anchor="start" class="tx dim" transform="translate(513,896) rotate(-90)">h8</text>
<line x1="428.4" y1="958.0" x2="448.0" y2="909.0" class="t"/>
<path d="M428.4,958.0 L430.3,948.0 L434.0,949.5 Z" fill="#000"/>
<line x1="448.0" y1="909.0" x2="476.0" y2="909.0" class="t"/>
<circle cx="462.0" cy="899.0" r="6.2" fill="#fff" stroke="#000" stroke-width="1.6"/>
<path d="M462.0,899.0 L468.2,899.0 A6.2,6.2 0 0 0 462.0,892.8 Z" fill="#000"/>
<path d="M462.0,899.0 L455.8,899.0 A6.2,6.2 0 0 0 462.0,905.2 Z" fill="#000"/>
<line x1="455.8" y1="899.0" x2="468.2" y2="899.0" class="t"/>
<line x1="462.0" y1="892.8" x2="462.0" y2="905.2" class="t"/>
<text x="398.0" y="1101.0" font-size="26" text-anchor="start" class="bt" textLength="76" lengthAdjust="spacingAndGlyphs">Prismă</text>
<path d="M658.4,893.6 L620,893.6 Q615.7,893.6 615.7,898 L615.7,1021.6 Q615.7,1026 620,1026 L658.4,1026 Z" class="k"/>
<line x1="619.5" y1="895.0" x2="619.5" y2="1024.0" class="t"/>
<path d="M658.4,941.6 L717.0,941.6 L721.3,946.0 L721.3,975.0 L717.0,978.8 L658.4,978.8" class="k"/>
<line x1="717.0" y1="941.6" x2="717.0" y2="978.8" class="t"/>
<line x1="609.0" y1="960.3" x2="726.8" y2="960.3" class="dd"/>
<line x1="588.0" y1="893.6" x2="615.7" y2="893.6" class="t"/>
<line x1="588.0" y1="1026.0" x2="615.7" y2="1026.0" class="t"/>
<line x1="590.0" y1="893.6" x2="590.0" y2="1026.0" class="t"/>
<path d="M590.0,893.6 L592.0,903.6 L588.0,903.6 Z" fill="#000"/>
<path d="M590.0,1026.0 L588.0,1016.0 L592.0,1016.0 Z" fill="#000"/>
<text x="0.0" y="0.0" font-size="17" text-anchor="start" class="tx dim" transform="translate(589,975) rotate(-90)">ø50</text>
<line x1="658.4" y1="1026.0" x2="658.4" y2="1042.0" class="t"/>
<line x1="721.3" y1="978.8" x2="721.3" y2="1073.0" class="t"/>
<line x1="615.7" y1="1026.0" x2="615.7" y2="1073.0" class="t"/>
<line x1="658.4" y1="1038.8" x2="721.3" y2="1038.8" class="t"/>
<path d="M658.4,1038.8 L668.4,1036.8 L668.4,1040.8 Z" fill="#000"/>
<path d="M721.3,1038.8 L711.3,1040.8 L711.3,1036.8 Z" fill="#000"/>
<text x="688.4" y="1034.0" font-size="17" text-anchor="middle" class="tx dim">24</text>
<line x1="615.7" y1="1069.0" x2="721.3" y2="1069.0" class="t"/>
<path d="M615.7,1069.0 L625.7,1067.0 L625.7,1071.0 Z" fill="#000"/>
<path d="M721.3,1069.0 L711.3,1071.0 L711.3,1067.0 Z" fill="#000"/>
<text x="671.6" y="1064.0" font-size="17" text-anchor="middle" class="tx dim">40</text>
<line x1="721.3" y1="941.6" x2="756.0" y2="941.6" class="t"/>
<line x1="721.3" y1="978.8" x2="756.0" y2="978.8" class="t"/>
<line x1="752.0" y1="880.4" x2="752.0" y2="978.8" class="t"/>
<path d="M752.0,941.6 L754.0,951.6 L750.0,951.6 Z" fill="#000"/>
<path d="M752.0,978.8 L750.0,968.8 L754.0,968.8 Z" fill="#000"/>
<text x="0.0" y="0.0" font-size="17" text-anchor="start" class="tx dim" transform="translate(743,927) rotate(-90)">ø14</text>
<text x="0.0" y="0.0" font-size="14" text-anchor="start" class="tx dim" transform="translate(746,897) rotate(-90)">h8</text>
<line x1="658.4" y1="958.4" x2="691.5" y2="890.0" class="t"/>
<path d="M658.4,958.4 L661.0,948.5 L664.6,950.3 Z" fill="#000"/>
<line x1="691.5" y1="890.0" x2="719.6" y2="890.0" class="t"/>
<circle cx="706.4" cy="880.4" r="6.2" fill="#fff" stroke="#000" stroke-width="1.6"/>
<path d="M706.4,880.4 L712.6,880.4 A6.2,6.2 0 0 0 706.4,874.2 Z" fill="#000"/>
<path d="M706.4,880.4 L700.2,880.4 A6.2,6.2 0 0 0 706.4,886.6 Z" fill="#000"/>
<line x1="700.2" y1="880.4" x2="712.6" y2="880.4" class="t"/>
<line x1="706.4" y1="874.2" x2="706.4" y2="886.6" class="t"/>
<text x="645.0" y="1101.0" font-size="26" text-anchor="start" class="bt" textLength="47" lengthAdjust="spacingAndGlyphs">Disc</text>
</svg></body></html>
